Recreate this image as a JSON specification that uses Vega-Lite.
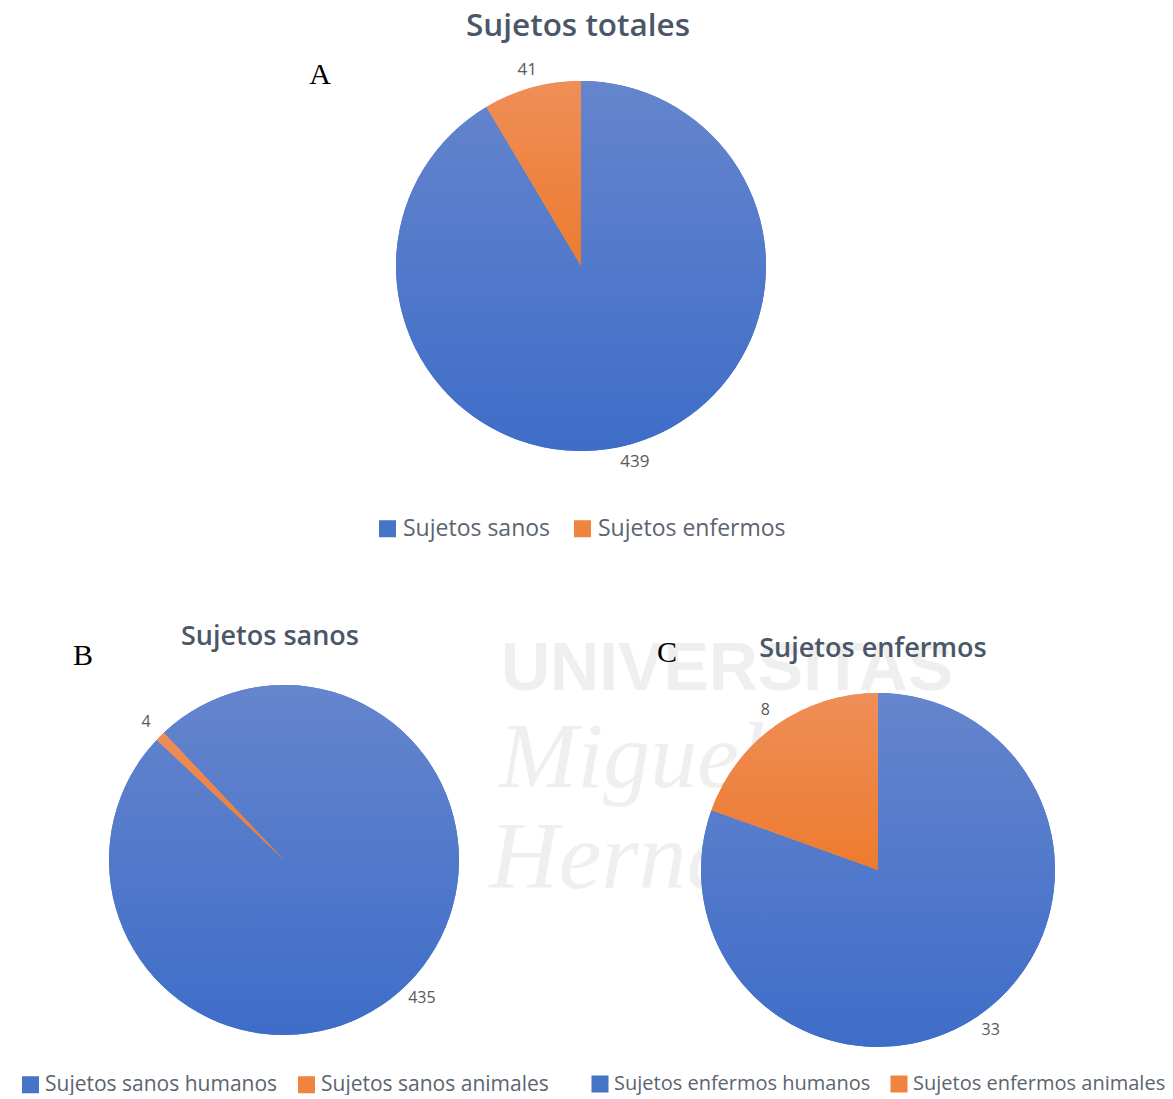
{
  "$schema": "https://vega.github.io/schema/vega-lite/v6.json",
  "padding": {"top": 10, "left": 0, "right": 0, "bottom": 0},
  "background": "white",
  "spacing": 234,
  "bounds": "flush",
  "config": {
    "view": {"stroke": null},
    "font": "Open Sans",
    "title": {"font": "Open Sans", "fontSize": 27, "fontWeight": 600, "color": "#4b5768", "anchor": "middle"},
    "legend": {
      "orient": "bottom", "direction": "horizontal", "title": null,
      "labelFont": "Open Sans", "labelFontSize": 22, "labelColor": "#5b6470", "labelLimit": 400,
      "symbolType": "square", "symbolSize": 290, "symbolStrokeWidth": 0,
      "columnPadding": 20, "labelOffset": 4,
      "layout": {"bottom": {"anchor": "middle"}}
    }
  },
  "resolve": {"scale": {"color": "independent", "theta": "independent"}, "legend": {"color": "independent"}},
  "vconcat": [
    {
      "title": {"text": "Sujetos totales", "offset": 18, "fontSize": 31.5, "dx": -3},
      "width": 1162,
      "height": 380,
      "data": {"values": [
        {"cat": "Sujetos sanos", "v": 439, "o": 1},
        {"cat": "Sujetos enfermos", "v": 41, "o": 2}
      ]},
      "layer": [
        {
          "mark": {"type": "arc", "outerRadius": 185},
          "encoding": {
            "theta": {"field": "v", "type": "quantitative", "stack": true},
            "color": {"field": "cat", "type": "nominal", "sort": null,
              "scale": {"domain": ["Sujetos sanos", "Sujetos enfermos"], "range": ["#4674c6", "#ee8440"]},
              "legend": {"offset": 61, "labelFontSize": 23}},
            "order": {"field": "o", "type": "quantitative"}
          }
        },
        {
          "mark": {"type": "arc", "outerRadius": 185},
          "encoding": {
            "theta": {"field": "v", "type": "quantitative", "stack": true},
            "detail": {"field": "cat", "type": "nominal"},
            "order": {"field": "o", "type": "quantitative"},
            "color": {
              "condition": {"test": "datum.o === 1", "value": {"gradient": "linear", "x1": 0, "y1": 0, "x2": 0, "y2": 1, "stops": [{"offset": 0, "color": "#6585cd"}, {"offset": 1, "color": "#3e6dc8"}]}},
              "value": {"gradient": "linear", "x1": 0, "y1": 0, "x2": 0, "y2": 1, "stops": [{"offset": 0, "color": "#ef8e58"}, {"offset": 1, "color": "#ed7b2e"}]}
            }
          }
        },
        {
          "mark": {"type": "text", "radius": 203, "fontSize": 17, "color": "#595959"},
          "encoding": {
            "theta": {"field": "v", "type": "quantitative", "stack": true},
            "detail": {"field": "cat", "type": "nominal"},
            "order": {"field": "o", "type": "quantitative"},
            "text": {"field": "v", "type": "quantitative"}
          }
        },
        {
          "data": {"values": [{"letter": "A"}]},
          "mark": {"type": "text", "font": "Liberation Serif", "fontSize": 30, "color": "black", "dx": -261, "dy": -191},
          "encoding": {"text": {"field": "letter", "type": "nominal"}}
        },
        {
          "data": {"values": [{"w": "UNIVERSITAS"}]},
          "mark": {"type": "text", "font": "Liberation Sans", "fontWeight": "bold", "fontSize": 68, "color": "#efefef", "baseline": "alphabetic", "dx": 146, "dy": 424},
          "encoding": {"text": {"field": "w", "type": "nominal"}}
        },
        {
          "data": {"values": [{"w": "Miguel"}]},
          "mark": {"type": "text", "font": "Liberation Serif", "fontStyle": "italic", "fontSize": 94, "color": "#efefef", "baseline": "alphabetic", "dx": 51, "dy": 521},
          "encoding": {"text": {"field": "w", "type": "nominal"}}
        },
        {
          "data": {"values": [{"w": "Hernández"}]},
          "mark": {"type": "text", "font": "Liberation Serif", "fontStyle": "italic", "fontSize": 96, "color": "#efefef", "baseline": "alphabetic", "dx": 119, "dy": 622},
          "encoding": {"text": {"field": "w", "type": "nominal"}}
        }
      ]
    },
    {
      "spacing": 15,
      "bounds": "flush",
      "resolve": {"scale": {"color": "independent", "theta": "independent"}, "legend": {"color": "independent"}},
      "hconcat": [
        {
          "title": {"text": "Sujetos sanos", "offset": -10, "dx": -14},
          "width": 568,
          "height": 340,
          "data": {"values": [
            {"cat": "Sujetos sanos humanos", "v": 435, "o": 1},
            {"cat": "Sujetos sanos animales", "v": 4, "o": 2}
          ]},
          "layer": [
            {
              "mark": {"type": "arc", "outerRadius": 175},
              "encoding": {
                "theta": {"field": "v", "type": "quantitative", "stack": true, "scale": {"range": [-0.757, 5.526]}},
                "color": {"field": "cat", "type": "nominal", "sort": null,
                  "scale": {"domain": ["Sujetos sanos humanos", "Sujetos sanos animales"], "range": ["#4674c6", "#ee8440"]},
                  "legend": {"offset": 44, "labelFontSize": 21, "columnPadding": 18}},
                "order": {"field": "o", "type": "quantitative"}
              }
            },
            {
              "mark": {"type": "arc", "outerRadius": 175},
              "encoding": {
                "theta": {"field": "v", "type": "quantitative", "stack": true},
                "detail": {"field": "cat", "type": "nominal"},
                "order": {"field": "o", "type": "quantitative"},
                "color": {
                  "condition": {"test": "datum.o === 1", "value": {"gradient": "linear", "x1": 0, "y1": 0, "x2": 0, "y2": 1, "stops": [{"offset": 0, "color": "#6585cd"}, {"offset": 1, "color": "#3e6dc8"}]}},
                  "value": {"gradient": "linear", "x1": 0, "y1": 0, "x2": 0, "y2": 1, "stops": [{"offset": 0, "color": "#ef8e58"}, {"offset": 1, "color": "#ed7b2e"}]}
                }
              }
            },
            {
              "mark": {"type": "text", "radius": 195, "fontSize": 16, "color": "#595959"},
              "encoding": {
                "theta": {"field": "v", "type": "quantitative", "stack": true},
                "detail": {"field": "cat", "type": "nominal"},
                "order": {"field": "o", "type": "quantitative"},
                "text": {"field": "v", "type": "quantitative"}
              }
            },
            {
              "data": {"values": [{"letter": "B"}]},
              "mark": {"type": "text", "font": "Liberation Serif", "fontSize": 30, "color": "black", "dx": -201, "dy": -204},
              "encoding": {"text": {"field": "letter", "type": "nominal"}}
            }
          ]
        },
        {
          "title": {"text": "Sujetos enfermos", "offset": -25, "dx": -5},
          "width": 590,
          "height": 360,
          "data": {"values": [
            {"cat": "Sujetos enfermos humanos", "v": 33, "o": 1},
            {"cat": "Sujetos enfermos animales", "v": 8, "o": 2}
          ]},
          "layer": [
            {
              "mark": {"type": "arc", "outerRadius": 177},
              "encoding": {
                "theta": {"field": "v", "type": "quantitative", "stack": true},
                "color": {"field": "cat", "type": "nominal", "sort": null,
                  "scale": {"domain": ["Sujetos enfermos humanos", "Sujetos enfermos animales"], "range": ["#4674c6", "#ee8440"]},
                  "legend": {"offset": 24, "labelFontSize": 20, "columnPadding": 18}},
                "order": {"field": "o", "type": "quantitative"}
              }
            },
            {
              "mark": {"type": "arc", "outerRadius": 177},
              "encoding": {
                "theta": {"field": "v", "type": "quantitative", "stack": true},
                "detail": {"field": "cat", "type": "nominal"},
                "order": {"field": "o", "type": "quantitative"},
                "color": {
                  "condition": {"test": "datum.o === 1", "value": {"gradient": "linear", "x1": 0, "y1": 0, "x2": 0, "y2": 1, "stops": [{"offset": 0, "color": "#6585cd"}, {"offset": 1, "color": "#3e6dc8"}]}},
                  "value": {"gradient": "linear", "x1": 0, "y1": 0, "x2": 0, "y2": 1, "stops": [{"offset": 0, "color": "#ef8e58"}, {"offset": 1, "color": "#ed7b2e"}]}
                }
              }
            },
            {
              "mark": {"type": "text", "radius": 196, "fontSize": 16, "color": "#595959"},
              "encoding": {
                "theta": {"field": "v", "type": "quantitative", "stack": true},
                "detail": {"field": "cat", "type": "nominal"},
                "order": {"field": "o", "type": "quantitative"},
                "text": {"field": "v", "type": "quantitative"}
              }
            },
            {
              "data": {"values": [{"letter": "C"}]},
              "mark": {"type": "text", "font": "Liberation Serif", "fontSize": 30, "color": "black", "dx": -211, "dy": -217},
              "encoding": {"text": {"field": "letter", "type": "nominal"}}
            }
          ]
        }
      ]
    }
  ]
}
